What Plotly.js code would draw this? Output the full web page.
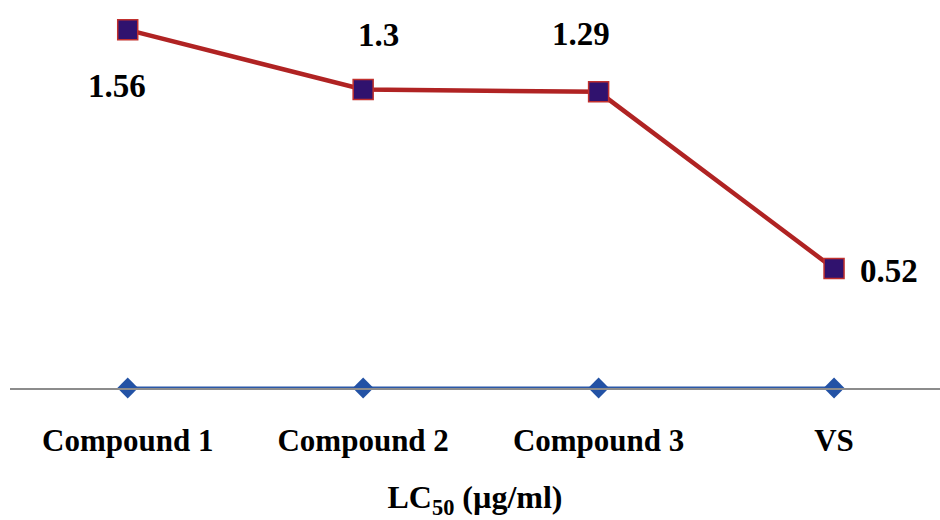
<!DOCTYPE html>
<html>
<head>
<meta charset="utf-8">
<script src="https://cdn.plot.ly/plotly-3.0.1.min.js"></script>
<style>html,body{margin:0;padding:0;background:#fff;}#chart{width:940px;height:520px;}</style>
</head>
<body>
<div id="chart"></div>
<script>
const categories = ["Compound 1", "Compound 2", "Compound 3", "VS"];
const lc50Values = [1.56, 1.3, 1.29, 0.52];
const baselineValues = [0, 0, 0, 0];
const valueLabels = ["1.56", "1.3", "1.29", "0.52"];
const axisTitle = "LC<sub>50</sub> (µg/ml)";

const idx = categories.map((c, i) => i);
const labelShifts = [[-11, -56], [15, 55], [-18, 58], [55, -2]];

const fontFam = "Liberation Serif, Times New Roman, serif";

const traces = [
  {
    x: idx, y: baselineValues, type: "scatter", mode: "lines+markers",
    line: {color: "#2B58A8", width: 3},
    marker: {symbol: "diamond", size: 16, color: "#2352A5"},
    cliponaxis: false, hoverinfo: "skip"
  },
  {
    x: idx, y: lc50Values, type: "scatter", mode: "lines+markers",
    line: {color: "#B02323", width: 4.5},
    marker: {symbol: "square", size: 20, color: "#30126E", line: {color: "#C0302E", width: 1.5}},
    cliponaxis: false, hoverinfo: "skip"
  }
];

const annotations = lc50Values.map((v, i) => ({
  x: i, y: v, xref: "x", yref: "y", text: "<b>" + valueLabels[i] + "</b>",
  showarrow: false, xshift: labelShifts[i][0], yshift: labelShifts[i][1],
  font: {family: fontFam, size: 33, color: "#000"}
}));

const layout = {
  width: 940, height: 520,
  margin: {l: 10, r: 0, t: 0, b: 132},
  paper_bgcolor: "#fff", plot_bgcolor: "#fff",
  showlegend: false,
  xaxis: {
    range: [-0.5, 3.45],
    tickvals: idx, ticktext: categories.map(c => "<b>" + c + "</b>"),
    tickfont: {family: fontFam, size: 31, color: "#000"},
    showgrid: false, zeroline: false, ticks: "",
    showline: true, linecolor: "#8C8C8C", linewidth: 2,
    ticklabelstandoff: 24,
    title: {text: "<b>" + axisTitle + "</b>", font: {family: fontFam, size: 32, color: "#000"}, standoff: 40}
  },
  yaxis: {
    range: [0, 1.69], visible: false, showgrid: false, zeroline: false
  },
  annotations: annotations
};

Plotly.newPlot("chart", traces, layout, {staticPlot: true});
</script>
</body>
</html>
